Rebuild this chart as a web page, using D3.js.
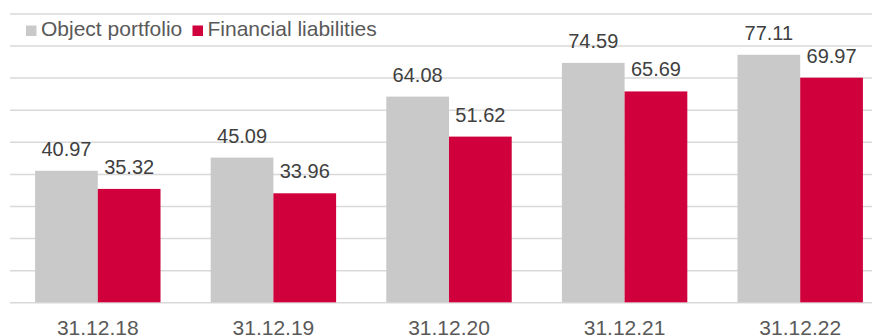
<!DOCTYPE html>
<html lang="en">
<head>
    <meta charset="UTF-8">
    <title>Object portfolio and financial liabilities</title>
    <script src="https://d3js.org/d3.v7.min.js"></script>
    <style>
        body {
            margin: 0;
            font-family: Arial, "Liberation Sans", sans-serif;
            background: #fff;
        }
        #chart {
            display: block;
        }
        .grid line {
            stroke: #d9d9d9;
            stroke-width: 1.5px;
        }
        .grid path {
            display: none;
        }
    </style>
</head>
<body>
    <div id="chart"></div>

    <script>
        // Data
        const categories = ["31.12.18", "31.12.19", "31.12.20", "31.12.21", "31.12.22"];
        const seriesNames = ["Object portfolio", "Financial liabilities"];
        const objectPortfolio = [40.97, 45.09, 64.08, 74.59, 77.11];
        const financialLiabilities = [35.32, 33.96, 51.62, 65.69, 69.97];
        const gridTicks = [0, 10, 20, 30, 40, 50, 60, 70, 80, 90];

        const colors = ["#c9c9c9", "#cf003b"];

        const width = 872;
        const height = 336;
        const plot = { left: 10, right: 888, top: 13.4, bottom: 302.3 };

        const svg = d3.select("#chart")
            .append("svg")
            .attr("width", width)
            .attr("height", height);

        const yScale = d3.scaleLinear()
            .domain([0, 90])
            .range([plot.bottom, plot.top]);

        const xScale = d3.scaleBand()
            .domain(categories)
            .range([plot.left, plot.right])
            .padding(0);

        const xInner = d3.scaleBand()
            .domain(seriesNames)
            .range([0, xScale.bandwidth()])
            .paddingInner(0)
            .paddingOuter(0.4);

        // gridlines
        svg.append("g")
            .attr("class", "grid")
            .attr("transform", `translate(${plot.left},0)`)
            .call(d3.axisLeft(yScale)
                .tickValues(gridTicks)
                .tickSize(-(plot.right - plot.left))
                .tickFormat(""));

        // rows for the bars
        const rows = categories.map((c, i) => ({
            cat: c,
            values: [objectPortfolio[i], financialLiabilities[i]]
        }));

        const groups = svg.selectAll(".group")
            .data(rows)
            .enter().append("g")
            .attr("class", "group")
            .attr("transform", d => `translate(${xScale(d.cat)},0)`);

        const cells = groups.selectAll(".cell")
            .data(d => d.values.map((v, j) => ({ name: seriesNames[j], value: v, idx: j })))
            .enter().append("g")
            .attr("class", "cell");

        cells.append("rect")
            .attr("x", d => xInner(d.name))
            .attr("y", d => yScale(d.value))
            .attr("width", xInner.bandwidth())
            .attr("height", d => yScale(0) - yScale(d.value))
            .attr("fill", d => colors[d.idx]);

        // value labels
        cells.append("text")
            .attr("x", d => xInner(d.name) + xInner.bandwidth() / 2)
            .attr("y", d => yScale(d.value) - 15)
            .attr("text-anchor", "middle")
            .style("font-size", "20px")
            .style("fill", "#404040")
            .text(d => d.value.toFixed(2));

        // category labels
        const xAxis = svg.append("g")
            .attr("transform", `translate(0,${plot.bottom})`)
            .call(d3.axisBottom(xScale).tickSize(0).tickPadding(0));
        xAxis.select(".domain").remove();
        xAxis.selectAll("text")
            .attr("y", 33)
            .attr("dy", 0)
            .style("font-family", "Arial, 'Liberation Sans', sans-serif")
            .style("font-size", "21px")
            .style("fill", "#595959");

        // legend
        const legendX = [26, 192.5];
        const legend = svg.selectAll(".legend")
            .data(seriesNames)
            .enter().append("g")
            .attr("class", "legend")
            .attr("transform", (d, i) => `translate(${legendX[i]},0)`);

        legend.append("rect")
            .attr("x", 0)
            .attr("y", 25.5)
            .attr("width", 10.5)
            .attr("height", 10.5)
            .attr("fill", (d, i) => colors[i]);

        legend.append("text")
            .attr("x", 15)
            .attr("y", 36)
            .style("font-size", "21px")
            .style("fill", "#595959")
            .text(d => d);
    </script>
</body>
</html>
